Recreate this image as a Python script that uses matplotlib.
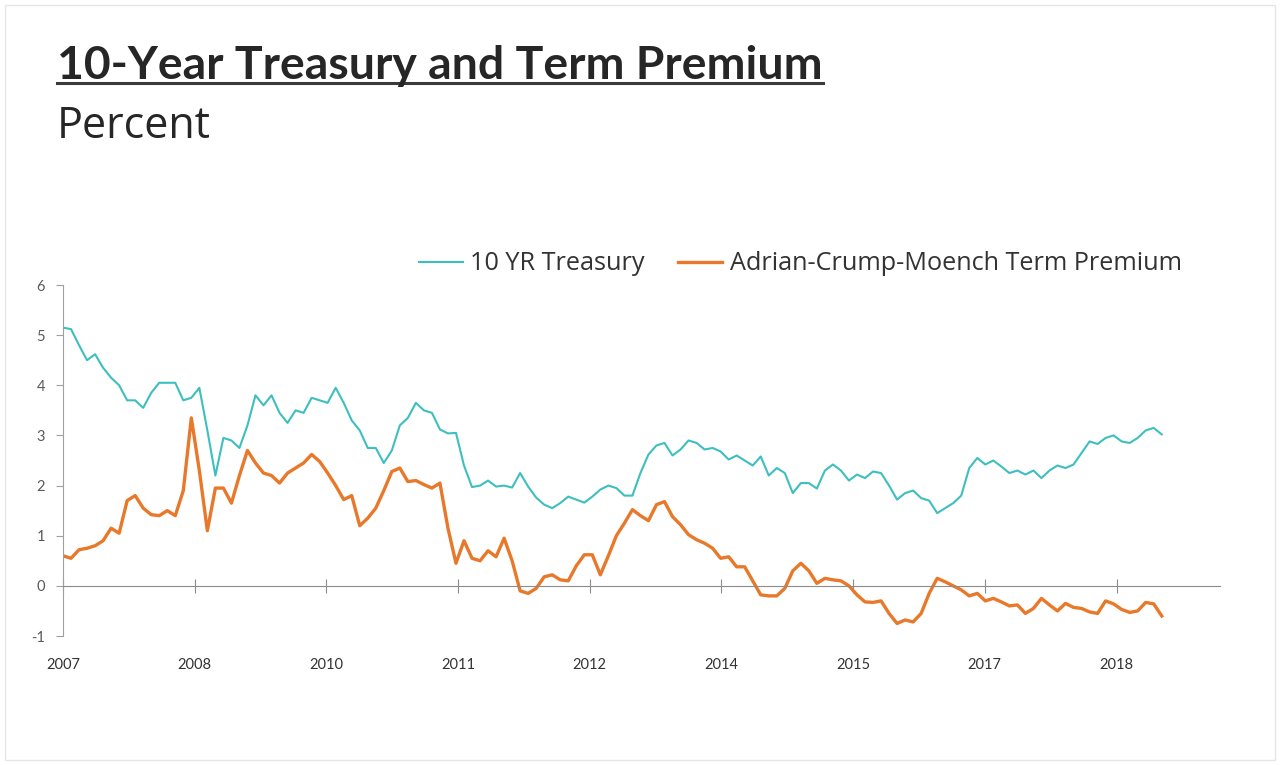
import numpy as np
import pandas as pd
import matplotlib
matplotlib.use("Agg")
import matplotlib.pyplot as plt
from matplotlib.lines import Line2D
from matplotlib.patches import Rectangle

# monthly readings, starting June 2007
treasury = [5.15, 5.12, 4.80, 4.50, 4.62, 4.35, 4.15, 4.00, 3.70, 3.70,
            3.55, 3.85, 4.05, 4.05, 4.05, 3.70, 3.75, 3.95, 3.10, 2.20,
            2.95, 2.90, 2.75, 3.20, 3.80, 3.60, 3.80, 3.45, 3.25, 3.50,
            3.45, 3.75, 3.70, 3.65, 3.95, 3.65, 3.30, 3.10, 2.75, 2.75,
            2.45, 2.70, 3.20, 3.35, 3.65, 3.50, 3.45, 3.12, 3.04, 3.05,
            2.40, 1.97, 2.00, 2.10, 1.98, 2.00, 1.96, 2.25, 1.98, 1.76,
            1.62, 1.55, 1.65, 1.78, 1.72, 1.66, 1.78, 1.92, 2.00, 1.95,
            1.80, 1.80, 2.25, 2.62, 2.80, 2.85, 2.60, 2.72, 2.90, 2.85,
            2.72, 2.75, 2.68, 2.52, 2.60, 2.50, 2.40, 2.58, 2.20, 2.35,
            2.25, 1.85, 2.05, 2.05, 1.94, 2.30, 2.42, 2.30, 2.10, 2.22,
            2.15, 2.28, 2.25, 2.00, 1.72, 1.85, 1.90, 1.75, 1.70, 1.45,
            1.55, 1.65, 1.80, 2.35, 2.55, 2.42, 2.50, 2.38, 2.25, 2.30,
            2.22, 2.30, 2.15, 2.30, 2.40, 2.35, 2.42, 2.65, 2.88, 2.83,
            2.95, 3.00, 2.88, 2.85, 2.95, 3.10, 3.15, 3.02]

term_premium = [0.60, 0.55, 0.72, 0.75, 0.80, 0.90, 1.15, 1.05, 1.70, 1.80,
                1.55, 1.42, 1.40, 1.50, 1.40, 1.90, 3.35, 2.30, 1.10, 1.95,
                1.95, 1.65, 2.20, 2.70, 2.45, 2.25, 2.20, 2.05, 2.25, 2.35,
                2.45, 2.62, 2.48, 2.25, 2.00, 1.72, 1.80, 1.20, 1.35, 1.55,
                1.90, 2.28, 2.35, 2.08, 2.10, 2.02, 1.95, 2.05, 1.15, 0.45,
                0.90, 0.55, 0.50, 0.70, 0.58, 0.95, 0.50, -0.10, -0.15, -0.05,
                0.18, 0.22, 0.12, 0.10, 0.40, 0.62, 0.62, 0.22, 0.60, 1.00,
                1.25, 1.52, 1.40, 1.30, 1.62, 1.68, 1.38, 1.22, 1.02, 0.92,
                0.85, 0.75, 0.55, 0.58, 0.38, 0.38, 0.10, -0.18, -0.20, -0.20,
                -0.05, 0.30, 0.45, 0.30, 0.05, 0.15, 0.12, 0.10, 0.00, -0.18,
                -0.32, -0.33, -0.30, -0.55, -0.75, -0.68, -0.72, -0.55, -0.15, 0.15,
                0.08, 0.00, -0.08, -0.20, -0.15, -0.30, -0.25, -0.32, -0.40, -0.38,
                -0.55, -0.45, -0.25, -0.38, -0.50, -0.35, -0.43, -0.45, -0.52, -0.55,
                -0.30, -0.36, -0.47, -0.53, -0.50, -0.33, -0.36, -0.60]

dates = pd.date_range("2007-06-01", periods=len(treasury), freq="MS")
tick_labels = ["2007", "2008", "2010", "2011", "2012", "2014", "2015", "2017", "2018"]
tick_every = 16.42  # months between category labels
y_ticks = [-1, 0, 1, 2, 3, 4, 5, 6]

teal = "#3ebfbf"
orange = "#e8782a"
grey_txt = "#595959"

plt.rcParams["font.family"] = ["Lato", "DejaVu Sans"]

fig = plt.figure(figsize=(12.8, 7.65), dpi=100)
fig.patch.set_facecolor("white")
fig.patches.append(Rectangle((0.004, 0.006), 0.992, 0.987, transform=fig.transFigure,
                             fill=False, edgecolor="#e6e6e6", linewidth=1))

ax = fig.add_axes([63 / 1280, 1 - 636 / 765, (1220 - 63) / 1280, (636 - 285) / 765])
x = np.arange(len(dates))
ax.plot(x, treasury, color=teal, linewidth=1.5, label="10 YR Treasury")
ax.plot(x, term_premium, color=orange, linewidth=2.4, label="Adrian-Crump-Moench Term Premium")

ax.set_xlim(0, (1220 - 63) / 8.02)
ax.set_ylim(-1, 6)
ax.set_yticks(y_ticks)
ax.set_yticklabels([str(v) for v in y_ticks])
ax.set_xticks(np.arange(len(tick_labels)) * tick_every)
ax.set_xticklabels(tick_labels)

for s in ["top", "right"]:
    ax.spines[s].set_visible(False)
ax.spines["left"].set_color("#a0a0a0")
ax.spines["bottom"].set_position(("data", 0))
ax.spines["bottom"].set_color("#8c8c8c")
ax.tick_params(axis="x", direction="inout", length=10, pad=47, colors="#8c8c8c",
               labelcolor="#333333", labelsize=10.5)
ax.tick_params(axis="y", direction="out", length=5, pad=8, colors="#a0a0a0",
               labelcolor=grey_txt, labelsize=10.5)

leg = ax.legend(loc="center", bbox_to_anchor=(0.637, 1.06), ncol=2, frameon=False,
                prop={"family": "Open Sans", "size": 18.2}, handlelength=1.75,
                columnspacing=1.3, handletextpad=0.3, labelcolor="#333333")

title = fig.text(57 / 1280, 1 - 79 / 765, "10-Year Treasury and Term Premium",
                 fontsize=33.4, fontweight="bold", color="#262626", va="baseline")
fig.text(57 / 1280, 1 - 138 / 765, "Percent", fontsize=31, family="Open Sans",
         color="#262626", va="baseline")

fig.canvas.draw()
bb = title.get_window_extent().transformed(fig.transFigure.inverted())
fig.lines.append(Line2D([bb.x0, bb.x1], [1 - 83 / 765] * 2, transform=fig.transFigure,
                        color="#3a3a3a", linewidth=2.2))

fig.savefig("out.png", dpi=100)
